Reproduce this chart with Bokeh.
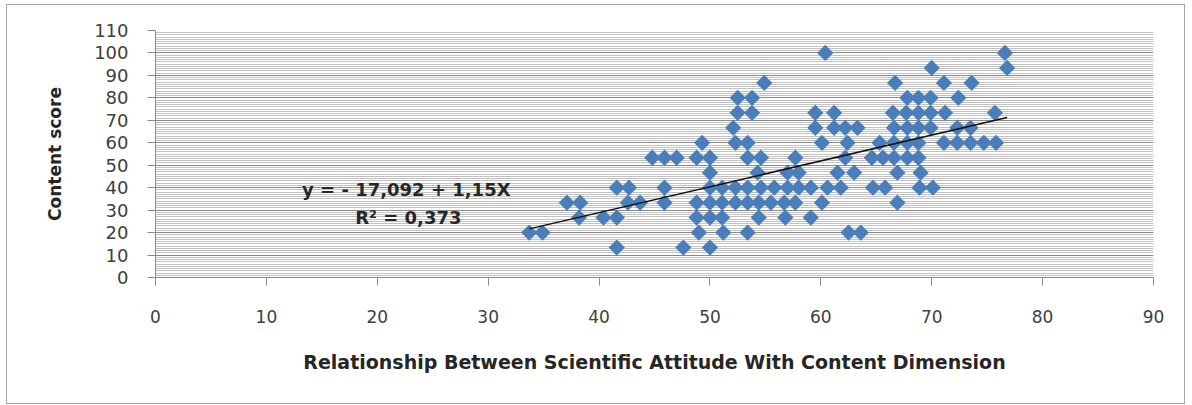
import numpy as np
from bokeh.plotting import figure
from bokeh.models import SingleIntervalTicker, Label, Range1d
from bokeh.embed import file_html
from bokeh.resources import INLINE

# ---- data ----
lvl_13 = [41.6, 47.6, 50.0]
lvl_20 = [33.7, 34.9, 49.0, 51.2, 53.4, 62.5, 63.6]
lvl_27 = [38.2, 40.4, 41.6, 48.8, 50.0, 51.1, 54.4, 56.8, 59.1]
lvl_33 = [37.1, 38.3, 42.6, 43.7, 45.9, 48.8, 50.0, 51.1, 52.3, 53.4, 54.4, 55.5,
          56.7, 57.7, 60.1, 66.9]
lvl_40 = [41.6, 42.7, 45.9, 50.0, 51.1, 52.3, 53.4, 54.6, 55.8, 57.0, 58.0, 59.1,
          60.6, 61.8, 64.7, 65.8, 68.9, 70.1]
lvl_47 = [50.0, 54.3, 57.0, 58.0, 61.5, 63.0, 66.9, 69.0]
lvl_53 = [44.8, 45.9, 47.0, 48.8, 50.0, 53.4, 54.6, 57.7, 62.2, 64.6, 65.6, 66.6,
          67.8, 68.8]
lvl_60 = [49.3, 52.3, 53.4, 60.1, 62.4, 65.3, 66.6, 67.8, 68.8, 71.1, 72.3, 73.5,
          74.7, 75.8]
lvl_67 = [52.1, 59.5, 61.2, 62.2, 63.3, 66.6, 67.8, 68.8, 69.9, 72.3, 73.5]
lvl_73 = [52.5, 53.8, 59.5, 61.2, 66.5, 67.7, 68.8, 69.9, 71.2, 75.7]
lvl_80 = [52.5, 53.8, 67.8, 68.8, 69.9, 72.4]
lvl_87 = [54.9, 66.7, 71.1, 73.6]
lvl_93 = [70.0, 76.8]
lvl_100 = [60.4, 76.6]

levels = [13.33, 20.0, 26.67, 33.33, 40.0, 46.67, 53.33, 60.0, 66.67, 73.33,
          80.0, 86.67, 93.33, 100.0]
groups = [lvl_13, lvl_20, lvl_27, lvl_33, lvl_40, lvl_47, lvl_53, lvl_60, lvl_67,
          lvl_73, lvl_80, lvl_87, lvl_93, lvl_100]

intercept = -17.092
slope = 1.15
eq_text = "y =  - 17,092 + 1,15X"
r2_text = "R² = 0,373"

x_title = "Relationship Between Scientific Attitude With Content Dimension"
y_title = "Content score"

attitude = []
content = []
for lv, xs in zip(levels, groups):
    attitude += xs
    content += [lv] * len(xs)

# ---- figure ----
p = figure(width=1179, height=400, output_backend="svg", toolbar_location=None,
           x_range=Range1d(0, 90), y_range=Range1d(0, 110),
           min_border_left=148, min_border_right=33, min_border_top=25,
           min_border_bottom=128)
p.styles = {"border": "1px solid #a6a6a6", "margin": "4px 0px 0px 6px"}
p.outline_line_color = None
p.background_fill_color = "#ffffff"

p.xaxis.ticker = SingleIntervalTicker(interval=10, num_minor_ticks=0)
p.yaxis.ticker = SingleIntervalTicker(interval=10, num_minor_ticks=10)

p.xgrid.grid_line_color = None
p.ygrid.grid_line_color = "#8a8a8a"
p.ygrid.grid_line_width = 1
p.ygrid.minor_grid_line_color = "#c2c2c2"
p.ygrid.minor_grid_line_width = 1

for ax in (p.xaxis, p.yaxis):
    ax.axis_line_color = "#8a8a8a"
    ax.major_tick_line_color = "#8a8a8a"
    ax.major_tick_in = 0
    ax.major_tick_out = 8
    ax.minor_tick_line_color = None
    ax.major_label_text_font = "DejaVu Sans"
    ax.major_label_text_font_size = "17px"
    ax.major_label_text_color = "#404040"
    ax.axis_label_text_font = "DejaVu Sans"
    ax.axis_label_text_font_style = "bold"
    ax.axis_label_text_color = "#262626"

p.yaxis.major_label_text_font_size = "18px"
p.yaxis.major_label_standoff = 19
p.xaxis.major_label_standoff = 24
p.xaxis.axis_label = x_title
p.yaxis.axis_label = y_title
p.xaxis.axis_label_text_font_size = "19px"
p.yaxis.axis_label_text_font_size = "17px"
p.xaxis.axis_label_standoff = 25
p.yaxis.axis_label_standoff = 26

p.scatter(attitude, content, marker="square", angle=np.pi / 4, size=11.5,
          fill_color="#4a7ebb", line_color=None)

xs = np.array([min(attitude), max(attitude)])
p.line(xs, intercept + slope * xs, line_color="#111111", line_width=1.5)

p.add_layout(Label(x=22.9, y=39.4, text=eq_text, text_align="center",
                   text_baseline="middle", text_font="DejaVu Sans",
                   text_font_style="bold", text_font_size="18px",
                   text_color="#262626"))
p.add_layout(Label(x=22.8, y=26.9, text=r2_text, text_align="center",
                   text_baseline="middle", text_font="DejaVu Sans",
                   text_font_style="bold", text_font_size="18px",
                   text_color="#262626"))

open("out.html", "w").write(file_html(p, INLINE))
